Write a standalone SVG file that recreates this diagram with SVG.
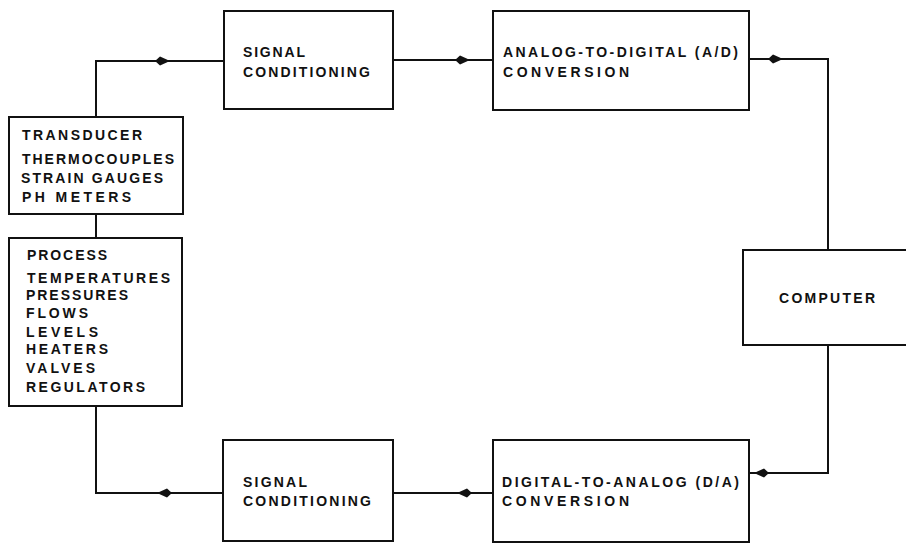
<svg xmlns="http://www.w3.org/2000/svg" width="906" height="543" viewBox="0 0 906 543">
<style>
.box{fill:#fff;stroke:#111;stroke-width:2}
.ln{fill:none;stroke:#111;stroke-width:2}
text{font-family:"Liberation Sans",Arial,sans-serif;font-weight:bold;font-size:14px;fill:#111}
</style>
<defs>
<path id="ar" d="M-7,0 L-2,-4.5 L8,0 L-2,4.5 Z" fill="#111"/>
</defs>
<rect width="906" height="543" fill="#fff"/>
<g id="connectors">
<polyline class="ln" points="96,117 96,61 224,61"/>
<line class="ln" x1="393" y1="60" x2="493" y2="60"/>
<polyline class="ln" points="749,59 828,59 828,250"/>
<polyline class="ln" points="828,345 828,473 749,473"/>
<line class="ln" x1="493" y1="493" x2="393" y2="493"/>
<polyline class="ln" points="223,493 96,493 96,406"/>
<line class="ln" x1="96" y1="214" x2="96" y2="238"/>
<use href="#ar" x="162" y="61"/>
<use href="#ar" x="462" y="60"/>
<use href="#ar" x="775" y="59"/>
<use href="#ar" transform="translate(762,473) rotate(180)"/>
<use href="#ar" transform="translate(465,493) rotate(180)"/>
<use href="#ar" transform="translate(165,493) rotate(180)"/>
</g>
<g id="transducer">
<rect class="box" x="9" y="117" width="174" height="97"/>
<text x="22" y="140" textLength="120" lengthAdjust="spacing">TRANSDUCER</text>
<text x="22" y="164" textLength="152" lengthAdjust="spacing">THERMOCOUPLES</text>
<text x="21" y="183" textLength="142" lengthAdjust="spacing">STRAIN GAUGES</text>
<text x="22" y="202" textLength="109" lengthAdjust="spacing">PH METERS</text>
</g>
<g id="process">
<rect class="box" x="9" y="238" width="173" height="168"/>
<text x="27" y="260" textLength="80" lengthAdjust="spacing">PROCESS</text>
<text x="27" y="283" textLength="143" lengthAdjust="spacing">TEMPERATURES</text>
<text x="26" y="300" textLength="102" lengthAdjust="spacing">PRESSURES</text>
<text x="26" y="318" textLength="62" lengthAdjust="spacing">FLOWS</text>
<text x="26" y="337" textLength="72" lengthAdjust="spacing">LEVELS</text>
<text x="26" y="354" textLength="82" lengthAdjust="spacing">HEATERS</text>
<text x="26" y="373" textLength="69" lengthAdjust="spacing">VALVES</text>
<text x="26" y="392" textLength="119" lengthAdjust="spacing">REGULATORS</text>
</g>
<g id="signal-top">
<rect class="box" x="224" y="11" width="169" height="98"/>
<text x="243" y="57" textLength="62" lengthAdjust="spacing">SIGNAL</text>
<text x="243" y="77" textLength="127" lengthAdjust="spacing">CONDITIONING</text>
</g>
<g id="ad">
<rect class="box" x="493" y="11" width="256" height="99"/>
<text x="503" y="57" textLength="235" lengthAdjust="spacing">ANALOG-TO-DIGITAL (A/D)</text>
<text x="503" y="77" textLength="126" lengthAdjust="spacing">CONVERSION</text>
</g>
<g id="computer">
<rect class="box" x="743" y="250" width="170" height="95"/>
<text x="779" y="303" textLength="96" lengthAdjust="spacing">COMPUTER</text>
</g>
<g id="da">
<rect class="box" x="493" y="440" width="256" height="102"/>
<text x="502" y="487" textLength="237" lengthAdjust="spacing">DIGITAL-TO-ANALOG (D/A)</text>
<text x="502" y="506" textLength="127" lengthAdjust="spacing">CONVERSION</text>
</g>
<g id="signal-bottom">
<rect class="box" x="223" y="440" width="170" height="101"/>
<text x="243" y="487" textLength="64" lengthAdjust="spacing">SIGNAL</text>
<text x="243" y="506" textLength="128" lengthAdjust="spacing">CONDITIONING</text>
</g>
</svg>
